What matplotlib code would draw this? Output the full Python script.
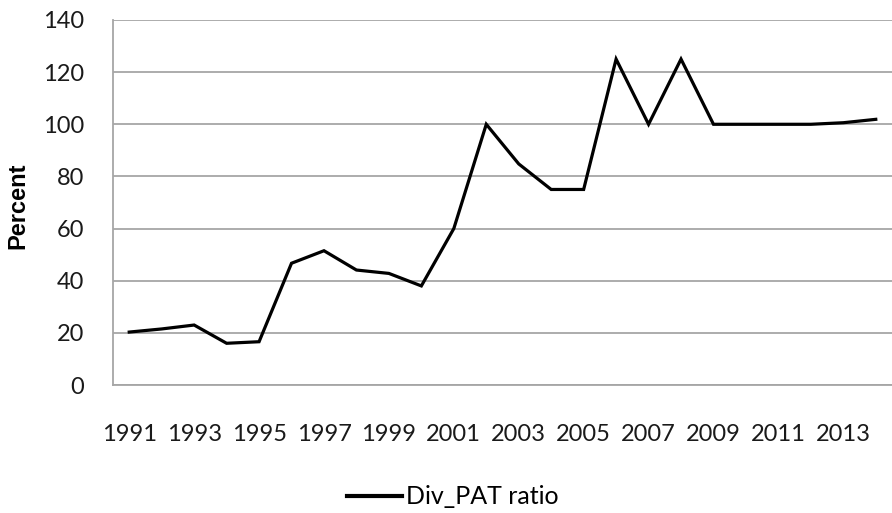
import numpy as np
import matplotlib
matplotlib.use("Agg")
import matplotlib.pyplot as plt

years = list(range(1991, 2015))
div_pat = [20.3, 21.5, 23.0, 16.0, 16.6, 46.7, 51.5, 44.1, 42.8, 38.0, 60.0, 100.0,
           84.8, 75.0, 75.0, 125.0, 100.0, 125.0, 100.0, 100.0, 100.0, 100.0, 100.6, 101.9]
xtick_years = list(range(1991, 2014, 2))
yticks = list(range(0, 141, 20))

plt.rcParams['font.family'] = ['Lato', 'DejaVu Sans']

fig = plt.figure(figsize=(8.92, 5.13), dpi=100)
ax = fig.add_axes([113/892, 1-385/513, 1-113/892, (385-20)/513])

ax.plot(years, div_pat, color='black', lw=2.3, label='Div_PAT ratio', solid_joinstyle='miter')

ax.set_xlim(1990.5, 2014.5)
ax.set_ylim(0, 140)
ax.set_yticks(yticks)
ax.set_xticks(xtick_years)
ax.set_xticklabels([str(y) for y in xtick_years])
ax.tick_params(axis='both', length=0, labelsize=17, colors='#1a1a1a')
ax.tick_params(axis='y', pad=21)
ax.tick_params(axis='x', pad=28)
ax.yaxis.grid(True, color='#a6a6a6', lw=1.3)
ax.set_axisbelow(True)
for s in ['top', 'right']:
    ax.spines[s].set_visible(False)
ax.spines['left'].set_color('#a6a6a6')
ax.spines['bottom'].set_color('#a6a6a6')
ax.spines['left'].set_linewidth(1.3)
ax.spines['bottom'].set_linewidth(1.3)

ax.set_ylabel('Percent', fontsize=17, fontweight='bold', family='Liberation Sans')
ax.yaxis.set_label_coords(-84/781, 0.49)

leg = fig.legend(loc='center', bbox_to_anchor=(453/892, 1-497/513), frameon=False,
                 fontsize=18, handlelength=2.2, handletextpad=0.15)
leg.get_lines()[0].set_linewidth(3)

fig.savefig('out.png', dpi=100)
